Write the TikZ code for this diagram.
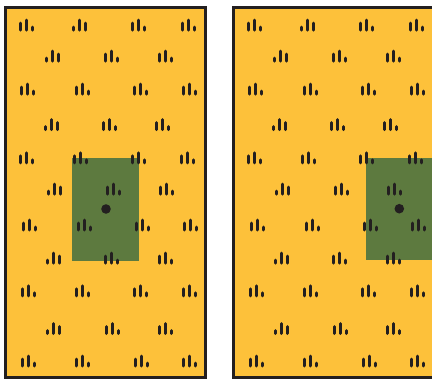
\documentclass[tikz,border=0pt]{standalone}
\definecolor{fieldyellow}{RGB}{253,193,58}
\definecolor{patchgreen}{RGB}{93,122,63}
\definecolor{inkdark}{RGB}{35,31,32}
\tikzset{
  tuftbar/.style={line width=3pt, line cap=round, draw=inkdark},
  tuftR/.pic={\draw[tuftbar] (-6,-1.5) -- (-6,-8.5); \draw[tuftbar] (0,-1.5) -- (0,-11.5); \draw[tuftbar] (6,-1.5) -- (6,-4.5);},
  tuftL/.pic={\draw[tuftbar] (6,-1.5) -- (6,-8.5); \draw[tuftbar] (0,-1.5) -- (0,-11.5); \draw[tuftbar] (-6,-1.5) -- (-6,-4.5);},
  framebox/.style={line width=3pt, draw=inkdark, fill=fieldyellow},
  patch/.style={fill=patchgreen},
  centerdot/.style={circle, fill=inkdark, inner sep=0pt, minimum size=9.6pt}
}
\begin{document}
\begin{tikzpicture}[x=1pt,y=-1pt]
\useasboundingbox (0,0) rectangle (432,381);
\clip (0,0) rectangle (432,381);
% panels
\draw[framebox] (5.5,7.5) rectangle (205.5,377.5);
\draw[framebox] (233.5,7.5) rectangle (433.5,377.5);
% green patches
\fill[patch] (72,157.5) rectangle (139,260.5);
\fill[patch] (366,157.5) rectangle (440,260);
% tufts
\foreach \off in {0,228}{
  \foreach \x/\y/\t in {
    26/31.7/R, 79/31.7/L, 138/31.7/R, 188/31.7/R,
    52/62.7/L, 111/62.7/R, 165/62.7/R,
    27/95.7/R, 82/95.7/R, 140/95.7/R, 189/95.7/R,
    51/131.2/L, 109/131.2/R, 162/131.2/R,
    26/164.3/R, 80/164.3/R, 138/164.3/R, 187/164.3/R,
    54/195.7/L, 113/195.7/R, 166/195.7/R,
    29/231.5/R, 84/231.5/R, 142/231.5/R, 190/231.5/R,
    53/264.7/L, 111/264.7/R, 165/264.7/R,
    28/297.3/R, 82/297.3/R, 140/297.3/R, 189/297.3/R,
    53/335/L, 112/335/R, 165/335/R,
    28/367.5/R, 82/367.5/R, 141/367.5/R, 189/367.5/R}{
    \pic at (\x+\off,\y) {tuft\t};
  }
}
% dots
\node[centerdot] (dotleft) at (106,209) {};
\node[centerdot] (dotright) at (399.3,208.7) {};
\end{tikzpicture}
\end{document}
